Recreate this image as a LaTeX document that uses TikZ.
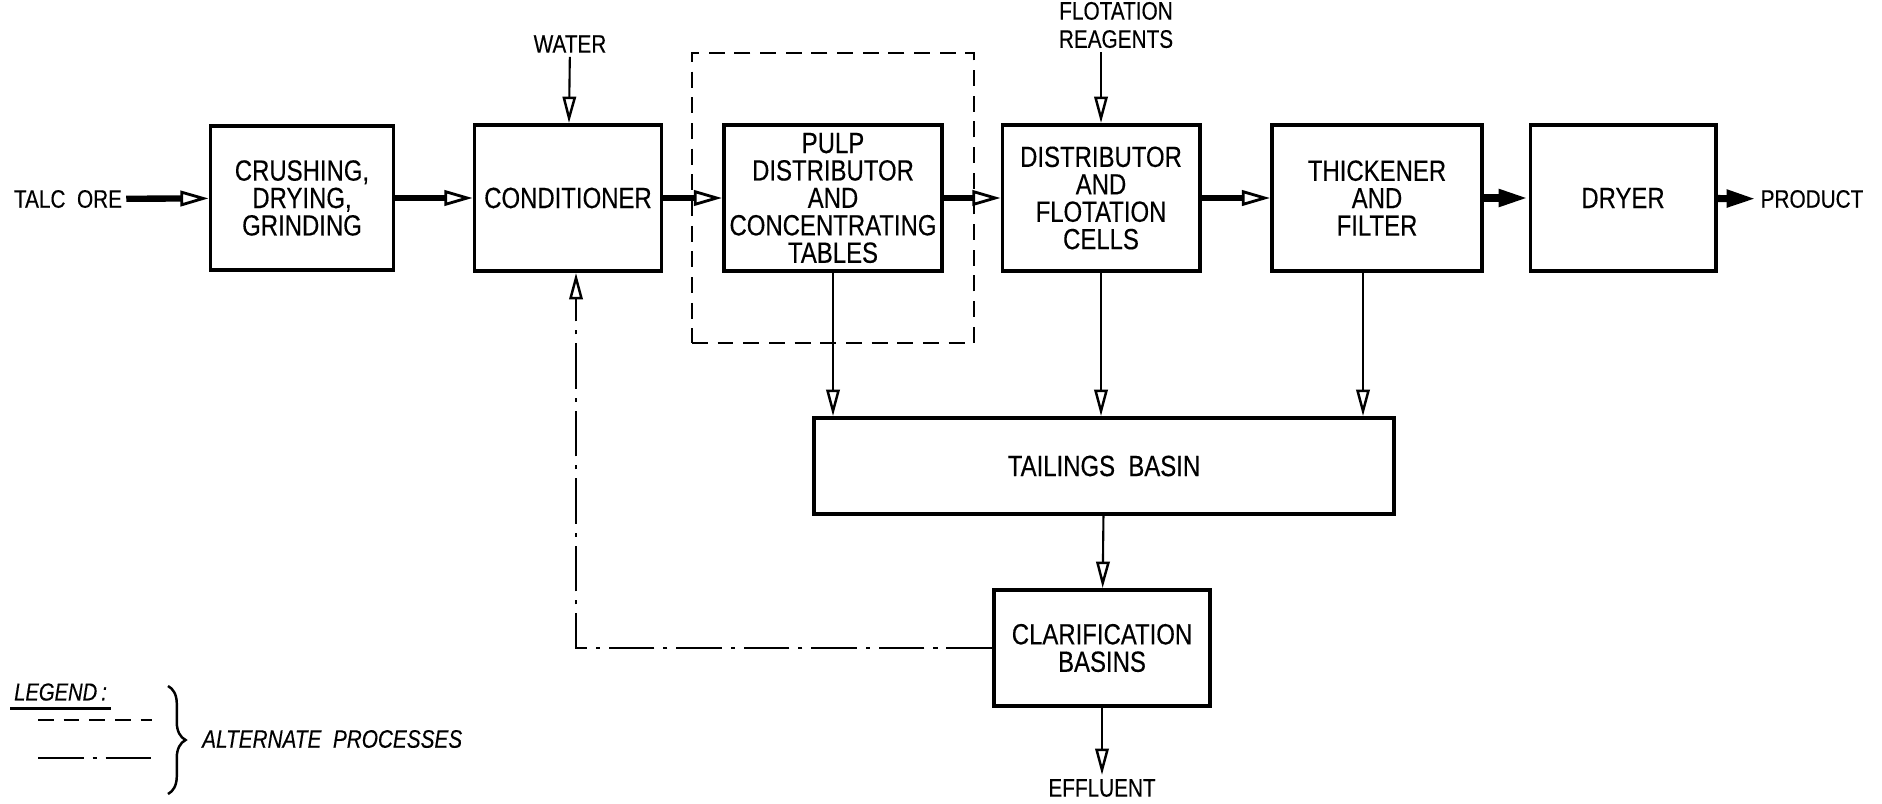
\documentclass[tikz,border=0pt]{standalone}
\usepackage{fontspec}
\setmainfont[FakeStretch=0.82, FakeBold=0.3]{Liberation Sans}
\usetikzlibrary{arrows.meta,decorations.pathreplacing,fit}

\begin{document}
\begin{tikzpicture}[x=0.01cm,y=-0.01cm,
  font=\fontsize{8.3}{7.8}\selectfont,
  box/.style={draw, line width=1.1pt, align=center, inner sep=0pt, minimum height=1.46cm},
  lbl/.style={font=\fontsize{7.2}{8}\selectfont, align=center, inner sep=1pt},
  flow/.style={line width=1.8pt, -{Triangle[open, length=8pt, width=4.4pt, line width=0.8pt]}},
  flowend/.style={line width=2pt, -{Triangle[length=8.5pt, width=4.6pt]}},
  feed/.style={line width=0.6pt, -{Triangle[open, length=7.5pt, width=3.8pt, line width=0.7pt]}},
  altdash/.style={line width=0.8pt, dash pattern=on 4.5pt off 2.8pt},
  altdot/.style={line width=0.8pt, dash pattern=on 13pt off 2.5pt on 1.2pt off 2.5pt}]
\useasboundingbox (0,0) rectangle (1882,803);
% main line
\node[lbl] (ore) at (68,199) {TALC\ \ ORE};
\node[box, minimum width=1.83cm, minimum height=1.44cm] (crush) at (302,198) {CRUSHING,\\DRYING,\\GRINDING};
\node[box, minimum width=1.87cm] (cond) at (568,198) {CONDITIONER};
\node[box, minimum width=2.18cm] (pulp) at (833,198) {PULP\\DISTRIBUTOR\\AND\\CONCENTRATING\\TABLES};
\node[box, minimum width=1.97cm] (cells) at (1101,198) {DISTRIBUTOR\\AND\\FLOTATION\\CELLS};
\node[box, minimum width=2.10cm] (thick) at (1377,198) {THICKENER\\AND\\FILTER};
\node[box, minimum width=1.85cm] (dryer) at (1623,198) {DRYER};
\node[lbl] (prod) at (1812,199) {PRODUCT};
\node[lbl] (water) at (570,44) {WATER};
\node[lbl] (reag) at (1116,25) {FLOTATION\\REAGENTS};
% alternate table circuit
\node[draw, altdash, fit=(pulp), inner xsep=0.3cm, inner ysep=0.7cm] (tablebox) {};
% tailings
\node[box, minimum width=5.8cm, minimum height=0.96cm] (tail) at (1104,466) {TAILINGS\ \ BASIN};
\node[box, minimum width=2.16cm, minimum height=1.16cm] (clar) at (1102,648) {CLARIFICATION\\BASINS};
\node[lbl] (eff) at (1102,788) {EFFLUENT};
% connectors
\draw[flow] (ore) -- (crush);
\draw[flow] (crush) -- (cond);
\draw[flow] (cond) -- (pulp);
\draw[flow] (pulp) -- (cells);
\draw[flow] (cells) -- (thick);
\draw[flowend] (thick) -- (dryer);
\draw[flowend] (dryer) -- (prod);
\draw[feed] (water) -- (cond);
\draw[feed] (cells.north |- reag.south) -- (cells);
\draw[feed] (pulp) -- (pulp |- tail.north);
\draw[feed] (cells) -- (cells |- tail.north);
\draw[feed] ([xshift=-0.14cm]thick.south) -- ([xshift=-0.14cm]thick.south |- tail.north);
\draw[feed] (tail) -- (clar);
\draw[feed] (clar) -- (eff);
\draw[altdot, -{Triangle[open, length=7.5pt, width=3.8pt, line width=0.7pt]}] (clar.west) -| ([xshift=0.08cm]cond.south);
% legend
\node[lbl, anchor=west, font=\fontsize{7}{8}\itshape] (legend) at (10,692) {LEGEND\,:};
\draw[line width=1pt] ([yshift=-1pt]legend.south west) -- ([yshift=-1pt]legend.south east);
\draw[altdash] (38,720) -- (152,720);
\draw[altdot] (38,758) -- (152,758);
\draw[line width=0.7pt, decorate, decoration={brace, amplitude=5pt}] (168,686) -- (168,794);
\node[lbl, anchor=west, font=\fontsize{7.2}{8}\itshape] (altlbl) at (198,739) {ALTERNATE\ \ PROCESSES};
\end{tikzpicture}
\end{document}
